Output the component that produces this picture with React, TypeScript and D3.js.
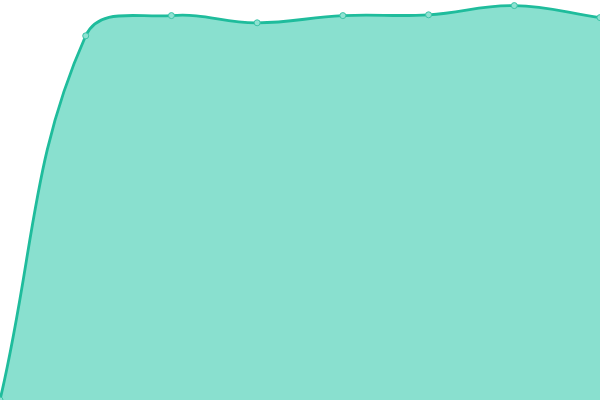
import { useEffect, useRef } from "react";
import * as d3 from "d3";

const categories = ["1", "2", "3", "4", "5", "6", "7", "8"];
const values = [0, 91.05, 96.1, 94.3, 96.1, 96.3, 98.6, 95.6];

const LINE = "#1fbc9c";
const AREA = "#89e0cf";

const WIDTH = 600;
const HEIGHT = 400;

// spline with distance-weighted control points (tension 0.4),
// control points capped to the drawing area
class TensionSpline {
  _context: any;
  _pts: [number, number][] = [];
  _line = NaN;
  constructor(context: any) {
    this._context = context;
  }
  areaStart() {
    this._line = 0;
  }
  areaEnd() {
    this._line = NaN;
  }
  lineStart() {
    this._pts = [];
  }
  point(x: number, y: number) {
    this._pts.push([+x, +y]);
  }
  lineEnd() {
    const p = this._pts;
    const ctx = this._context;
    const n = p.length;
    if (n) {
      if (this._line) ctx.lineTo(p[0][0], p[0][1]);
      else ctx.moveTo(p[0][0], p[0][1]);
      const t = 0.4;
      const cap = (v: number, lo: number, hi: number) => Math.max(lo, Math.min(hi, v));
      const cps = p.map((cur, i) => {
        const prev = i > 0 ? p[i - 1] : cur;
        const next = i < n - 1 ? p[i + 1] : cur;
        const d01 = Math.hypot(cur[0] - prev[0], cur[1] - prev[1]);
        const d12 = Math.hypot(next[0] - cur[0], next[1] - cur[1]);
        let s01 = d01 / (d01 + d12);
        let s12 = d12 / (d01 + d12);
        if (isNaN(s01)) s01 = 0;
        if (isNaN(s12)) s12 = 0;
        const fa = t * s01;
        const fb = t * s12;
        return {
          px: cap(cur[0] - fa * (next[0] - prev[0]), 0, WIDTH),
          py: cap(cur[1] - fa * (next[1] - prev[1]), 0, HEIGHT),
          nx: cap(cur[0] + fb * (next[0] - prev[0]), 0, WIDTH),
          ny: cap(cur[1] + fb * (next[1] - prev[1]), 0, HEIGHT),
        };
      });
      for (let i = 1; i < n; i++) {
        ctx.bezierCurveTo(cps[i - 1].nx, cps[i - 1].ny, cps[i].px, cps[i].py, p[i][0], p[i][1]);
      }
    }
    if (this._line || (this._line !== 0 && n === 1)) ctx.closePath();
    this._line = 1 - this._line;
  }
}

const tensionCurve = (context: any) => new TensionSpline(context);

export default function App() {
  const svgRef = useRef<SVGSVGElement>(null);

  useEffect(() => {
    if (!svgRef.current) return;
    const svg = d3.select(svgRef.current);
    svg.selectAll("*").remove();

    const x = d3.scalePoint<string>().domain(categories).range([0, WIDTH]);
    const y = d3.scaleLinear().domain([0, 100]).range([HEIGHT, 0]);

    const data = categories.map((c, i) => ({ c, v: values[i] }));

    const area = d3
      .area<{ c: string; v: number }>()
      .x((d) => x(d.c) ?? 0)
      .y0(HEIGHT)
      .y1((d) => y(d.v))
      .curve(tensionCurve as any);

    const line = d3
      .line<{ c: string; v: number }>()
      .x((d) => x(d.c) ?? 0)
      .y((d) => y(d.v))
      .curve(tensionCurve as any);

    svg.append("path").datum(data).attr("fill", AREA).attr("d", area);

    svg
      .append("path")
      .datum(data)
      .attr("fill", "none")
      .attr("stroke", LINE)
      .attr("stroke-width", 2.8)
      .attr("d", line);

    svg
      .selectAll(".dot")
      .data(data)
      .enter()
      .append("circle")
      .attr("class", "dot")
      .attr("cx", (d) => x(d.c) ?? 0)
      .attr("cy", (d) => y(d.v))
      .attr("r", 3)
      .attr("fill", "#8fe2d2")
      .attr("stroke", "#3cc4a8")
      .attr("stroke-width", 1);
  }, []);

  return (
    <svg
      ref={svgRef}
      width={WIDTH}
      height={HEIGHT}
      style={{ position: "absolute", top: 0, left: 0, background: "#fff" }}
    />
  );
}
